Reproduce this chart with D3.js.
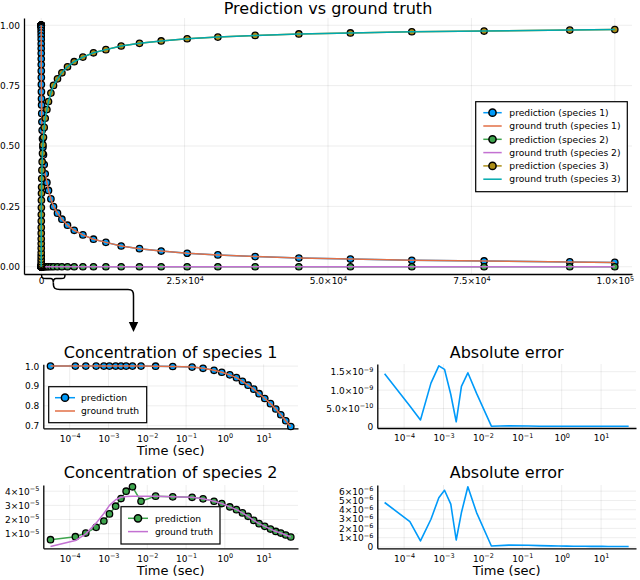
<!DOCTYPE html>
<html>
<head>
<meta charset="utf-8">
<script src="https://cdn.jsdelivr.net/npm/d3@7"></script>
<style>
  body { margin: 0; background: #fff; }
  text { font-family: "DejaVu Sans", sans-serif; fill: #000; }
</style>
</head>
<body>
<svg id="chart" width="640" height="580"></svg>
<script>
// ---- data ----
// first 29 solver steps (shown zoomed in the four small panels)
const tEarly = [3.2e-5, 1.4e-4, 2.6e-4, 4.8e-4, 7.6e-4, 1.06e-3, 1.53e-3, 2.1e-3, 2.85e-3, 4.15e-3,
  6.9e-3, 0.0164, 0.0453, 0.143, 0.274, 0.526, 0.832, 1.34, 1.99, 2.84,
  3.97, 5.56, 7.62, 10.7, 15.0, 20.6, 27.7, 37.2, 50.1];
// remaining steps, only in the big panel
const tLate = [68, 92, 124, 167, 225, 300, 395, 525, 697, 993, 1272, 1690, 2144, 2841, 3608, 4584,
  5752, 7268, 9116, 11277, 13944, 17134, 20916, 25448, 30799, 37300, 44917, 53911, 64612, 77215, 92152, 100000];

const pred1Early = [1.0, 1.0, 1.0, 1.0, 1.0, 1.0, 1.0, 1.0, 1.0, 1.0, 1.0, 0.9995, 0.998, 0.995, 0.989,
  0.979, 0.969, 0.956, 0.942, 0.923, 0.904, 0.884, 0.861, 0.837, 0.811, 0.784, 0.755, 0.725, 0.696];
const pred1Late = [0.67, 0.635, 0.60, 0.565, 0.53, 0.495, 0.464, 0.423, 0.385, 0.349, 0.316, 0.281, 0.249,
  0.222, 0.197, 0.172, 0.151, 0.132, 0.114, 0.101, 0.086, 0.075, 0.065, 0.056, 0.049, 0.042, 0.036,
  0.032, 0.027, 0.024, 0.020, 0.018];

const pred2Early = [0.58e-5, 0.79e-5, 1.05e-5, 1.45e-5, 1.9e-5, 2.4e-5, 2.94e-5, 3.48e-5, 4.0e-5, 4.31e-5,
  3.29e-5, 3.65e-5, 3.6e-5, 3.57e-5, 3.46e-5, 3.29e-5, 3.13e-5, 2.89e-5, 2.7e-5, 2.47e-5,
  2.23e-5, 1.94e-5, 1.71e-5, 1.52e-5, 1.33e-5, 1.16e-5, 1.05e-5, 0.91e-5, 0.77e-5];
const truth2Early = [0.1e-5, 0.52e-5, 0.99e-5, 1.75e-5, 2.43e-5, 3.0e-5, 3.4e-5, 3.57e-5, 3.63e-5, 3.65e-5,
  3.65e-5, 3.64e-5, 3.61e-5, 3.57e-5, 3.46e-5, 3.29e-5, 3.13e-5, 2.89e-5, 2.7e-5, 2.47e-5,
  2.23e-5, 1.94e-5, 1.71e-5, 1.52e-5, 1.33e-5, 1.16e-5, 1.05e-5, 0.91e-5, 0.77e-5];
const y2Late = [6.4e-6, 5.4e-6, 4.6e-6, 3.9e-6, 3.3e-6, 2.8e-6, 2.3e-6, 1.9e-6, 1.6e-6, 1.2e-6, 1.0e-6,
  8e-7, 6.5e-7, 5e-7, 4e-7, 3.3e-7, 2.7e-7, 2.2e-7, 1.8e-7, 1.5e-7, 1.2e-7, 1e-7, 8e-8, 7e-8,
  6e-8, 5e-8, 4e-8, 3.5e-8, 3e-8, 2.5e-8, 2e-8, 1.9e-8];

const pred3Early = [0, 0, 0, 0, 0, 0, 0, 0, 0, 0, 0, 0.0005, 0.002, 0.005, 0.011, 0.021, 0.031, 0.044,
  0.058, 0.077, 0.096, 0.116, 0.139, 0.163, 0.189, 0.216, 0.245, 0.275, 0.304];
const pred3Late = [0.33, 0.365, 0.40, 0.435, 0.47, 0.505, 0.536, 0.577, 0.615, 0.651, 0.684, 0.719, 0.751,
  0.778, 0.803, 0.828, 0.849, 0.868, 0.886, 0.899, 0.914, 0.925, 0.935, 0.944, 0.951, 0.958, 0.964,
  0.968, 0.973, 0.976, 0.980, 0.982];

const err1 = [1.444e-9, 0.57e-9, 0.19e-9, 1.19e-9, 1.66e-9, 1.565e-9, 0.88e-9, 0.14e-9, 1.1e-9, 1.47e-9,
  0.91e-9, 0.02e-9, 0.03e-9, 0.025e-9, 0.02e-9, 0.02e-9, 0.02e-9, 0.02e-9, 0.02e-9, 0.02e-9,
  0.02e-9, 0.02e-9, 0.02e-9, 0.02e-9, 0.02e-9, 0.02e-9, 0.02e-9, 0.02e-9, 0.02e-9];
const err2 = [4.78e-6, 2.73e-6, 0.65e-6, 2.98e-6, 5.3e-6, 6.1e-6, 4.6e-6, 0.75e-6, 3.7e-6, 6.47e-6,
  3.7e-6, 0.1e-6, 0.2e-6, 0.18e-6, 0.14e-6, 0.12e-6, 0.1e-6, 0.09e-6, 0.08e-6, 0.07e-6,
  0.07e-6, 0.06e-6, 0.06e-6, 0.06e-6, 0.05e-6, 0.05e-6, 0.05e-6, 0.05e-6, 0.05e-6];

// ticks
const topXTicks = [0, 25000, 50000, 75000, 100000];
const topXLabels = ["0", "2.5×10^4", "5.0×10^4", "7.5×10^4", "1.0×10^5"];
const topYTicks = [0, 0.25, 0.5, 0.75, 1.0];
const topYLabels = ["0.00", "0.25", "0.50", "0.75", "1.00"];
const logTicks = [1e-4, 1e-3, 1e-2, 1e-1, 1, 10];
const logLabels = ["10^−4", "10^−3", "10^−2", "10^−1", "10^0", "10^1"];
const s1YTicks = [0.7, 0.8, 0.9, 1.0];
const s1YLabels = ["0.7", "0.8", "0.9", "1.0"];
const s2YTicks = [1e-5, 2e-5, 3e-5, 4e-5];
const s2YLabels = ["1×10^−5", "2×10^−5", "3×10^−5", "4×10^−5"];
const e1YTicks = [0, 5e-10, 1e-9, 1.5e-9];
const e1YLabels = ["0", "5.0×10^−10", "1.0×10^−9", "1.5×10^−9"];
const e2YTicks = [0, 1e-6, 2e-6, 3e-6, 4e-6, 5e-6, 6e-6];
const e2YLabels = ["0", "1×10^−6", "2×10^−6", "3×10^−6", "4×10^−6", "5×10^−6", "6×10^−6"];

const col = {blue: "#009af9", orange: "#e26f46", green: "#3da44d", purple: "#c371d2", gold: "#ac8e18", teal: "#00a9ad"};

const svg = d3.select("#chart");

// plots.jl style: pad the data range by 3% on each side
function widen(vals) {
  const lo = d3.min(vals), hi = d3.max(vals), p = (hi - lo) * 0.03;
  return [lo - p, hi + p];
}
function widenLog(vals) {
  const lo = Math.log10(d3.min(vals)), hi = Math.log10(d3.max(vals)), p = (hi - lo) * 0.03;
  return [Math.pow(10, lo - p), Math.pow(10, hi + p)];
}

// "2.5×10^4" -> base text plus raised exponent
function supText(sel, label) {
  sel.text(null);
  const parts = label.split("^");
  sel.append("tspan").text(parts[0]);
  if (parts.length > 1) {
    sel.append("tspan").attr("font-size", "0.72em").attr("dy", "-0.55em").text(parts[1]);
  }
}

function drawPanel(cfg) {
  const {box, x, y, xTicks, xLabels, yTicks, yLabels, title, titleY, xlabel, xPad} = cfg;
  const g = svg.append("g");

  g.append("g").selectAll("line").data(xTicks).join("line")
    .attr("x1", d => x(d)).attr("x2", d => x(d))
    .attr("y1", box.y0).attr("y2", box.y1)
    .attr("stroke", "#000").attr("stroke-opacity", 0.1).attr("stroke-width", 0.7);
  g.append("g").selectAll("line").data(yTicks).join("line")
    .attr("x1", box.x0).attr("x2", box.x1)
    .attr("y1", d => y(d)).attr("y2", d => y(d))
    .attr("stroke", "#000").attr("stroke-opacity", 0.1).attr("stroke-width", 0.7);

  const xa = g.append("g").attr("transform", `translate(0,${box.y1})`)
    .call(d3.axisBottom(x).tickValues(xTicks).tickSize(0).tickSizeOuter(0).tickPadding(xPad))
    .attr("font-size", 9).attr("font-family", "DejaVu Sans");
  xa.select(".domain").attr("stroke", "#000").attr("stroke-width", 1.3);
  xa.selectAll(".tick text").each(function(d, i) { supText(d3.select(this), xLabels[i]); });

  const ya = g.append("g").attr("transform", `translate(${box.x0},0)`)
    .call(d3.axisLeft(y).tickValues(yTicks).tickSize(0).tickSizeOuter(0).tickPadding(4))
    .attr("font-size", 9).attr("font-family", "DejaVu Sans");
  ya.select(".domain").attr("stroke", "#000").attr("stroke-width", 1.3);
  ya.selectAll(".tick text").each(function(d, i) { supText(d3.select(this), yLabels[i]); });

  g.append("text").attr("x", (box.x0 + box.x1) / 2).attr("y", titleY)
    .attr("text-anchor", "middle").attr("font-size", 16).text(title);
  if (xlabel) {
    g.append("text").attr("x", (box.x0 + box.x1) / 2).attr("y", box.y1 + 26.5)
      .attr("text-anchor", "middle").attr("font-size", 13).text(xlabel);
  }
  return g;
}

function drawLine(g, xs, ys, x, y, color, width) {
  const pts = xs.map((t, i) => [t, ys[i]]);
  g.append("path").datum(pts)
    .attr("d", d3.line().x(d => x(d[0])).y(d => y(d[1])))
    .attr("fill", "none").attr("stroke", color).attr("stroke-width", width || 1.5)
    .attr("stroke-linejoin", "round");
}
function drawDots(g, xs, ys, x, y, color) {
  const pts = xs.map((t, i) => [t, ys[i]]);
  g.append("g").selectAll("circle").data(pts).join("circle")
    .attr("cx", d => x(d[0])).attr("cy", d => y(d[1])).attr("r", 3.2)
    .attr("fill", color).attr("stroke", "#000").attr("stroke-width", 1.3);
}

function drawLegend(b, rows, rowY, step, lx0, lx1, tx) {
  const g = svg.append("g");
  g.append("rect").attr("x", b.x).attr("y", b.y).attr("width", b.w).attr("height", b.h)
    .attr("fill", "#fff").attr("stroke", "#000").attr("stroke-width", 1.2);
  rows.forEach((r, i) => {
    const yy = rowY + i * step;
    g.append("line").attr("x1", lx0).attr("x2", lx1).attr("y1", yy).attr("y2", yy)
      .attr("stroke", r.color).attr("stroke-width", 1.5);
    if (r.marker) {
      g.append("circle").attr("cx", (lx0 + lx1) / 2).attr("cy", yy).attr("r", 3.6)
        .attr("fill", r.color).attr("stroke", "#000").attr("stroke-width", 1.5);
    }
    g.append("text").attr("x", tx).attr("y", yy).attr("dy", "0.35em")
      .attr("font-size", 9.2).text(r.label);
  });
}

// ---- big panel ----
const tAll = tEarly.concat(tLate);
const pred1All = pred1Early.concat(pred1Late);
const pred2All = pred2Early.concat(y2Late);
const truth2All = truth2Early.concat(y2Late);
const pred3All = pred3Early.concat(pred3Late);

const topBox = {x0: 24, x1: 632, y0: 18, y1: 274};
const xTop = d3.scaleLinear().domain(widen(tAll)).range([topBox.x0, topBox.x1]);
const yTop = d3.scaleLinear().domain(widen(pred1All.concat(pred3All, truth2All))).range([topBox.y1, topBox.y0]);
const gTop = drawPanel({box: topBox, x: xTop, y: yTop, xTicks: topXTicks, xLabels: topXLabels,
  yTicks: topYTicks, yLabels: topYLabels, title: "Prediction vs ground truth", titleY: 13.5, xPad: 4});

drawLine(gTop, tAll, pred1All, xTop, yTop, col.blue);
drawDots(gTop, tAll, pred1All, xTop, yTop, col.blue);
drawLine(gTop, tAll, pred1All, xTop, yTop, col.orange);
drawLine(gTop, tAll, pred2All, xTop, yTop, col.green);
drawDots(gTop, tAll, pred2All, xTop, yTop, col.green);
drawLine(gTop, tAll, truth2All, xTop, yTop, col.purple);
drawLine(gTop, tAll, pred3All, xTop, yTop, col.gold);
drawDots(gTop, tAll, pred3All, xTop, yTop, col.gold);
drawLine(gTop, tAll, pred3All, xTop, yTop, col.teal);

drawLegend({x: 475.7, y: 101.7, w: 151.6, h: 90}, [
  {label: "prediction (species 1)", color: col.blue, marker: true},
  {label: "ground truth (species 1)", color: col.orange},
  {label: "prediction (species 2)", color: col.green, marker: true},
  {label: "ground truth (species 2)", color: col.purple},
  {label: "prediction (species 3)", color: col.gold, marker: true},
  {label: "ground truth (species 3)", color: col.teal}
], 112.7, 13.3, 483.3, 501.7, 509.3);

// brace + arrow pointing at the zoomed panels
const ann = svg.append("g").attr("fill", "none").attr("stroke", "#000").attr("stroke-width", 1.5);
ann.append("path").attr("d", "M41.5,274.5 C41.5,278.5 43,278.5 46,278.5 L50.5,278.5 C52.5,278.5 53.3,280 53.3,282.5 C53.3,280 54.1,278.5 56.1,278.5 L61,278.5 C64,278.5 65,278.5 65,274.5");
ann.append("path").attr("d", "M53.3,282.5 C53.3,288.5 55,289.5 60,289.5 L128,289.5 C132.5,289.5 133.5,291.5 133.5,296 L133.5,324");
svg.append("path").attr("d", "M128.8,322 L138.2,322 L133.5,332 Z").attr("fill", "#000");

// ---- small panels ----
const xLogL = d3.scaleLog().domain(widenLog(tEarly)).range([43.3, 298]);
const xLogR = d3.scaleLog().domain(widenLog(tEarly)).range([377.3, 636]);

const s1Box = {x0: 43.3, x1: 298, y0: 364.3, y1: 428.3};
const yS1 = d3.scaleLinear().domain(widen(pred1Early)).range([s1Box.y1, s1Box.y0]);
const gS1 = drawPanel({box: s1Box, x: xLogL, y: yS1, xTicks: logTicks, xLabels: logLabels,
  yTicks: s1YTicks, yLabels: s1YLabels, title: "Concentration of species 1", titleY: 358.3,
  xlabel: "Time (sec)", xPad: 7});
drawLine(gS1, tEarly, pred1Early, xLogL, yS1, col.blue);
drawDots(gS1, tEarly, pred1Early, xLogL, yS1, col.blue);
drawLine(gS1, tEarly, pred1Early, xLogL, yS1, col.orange);
drawLegend({x: 48.7, y: 386.7, w: 98, h: 36}, [
  {label: "prediction", color: col.blue, marker: true},
  {label: "ground truth", color: col.orange}
], 397.7, 13.3, 55, 75, 81);

const e1Box = {x0: 377.3, x1: 636, y0: 364, y1: 428};
const yE1 = d3.scaleLinear().domain(widen(err1)).range([e1Box.y1, e1Box.y0]);
const gE1 = drawPanel({box: e1Box, x: xLogR, y: yE1, xTicks: logTicks, xLabels: logLabels,
  yTicks: e1YTicks, yLabels: e1YLabels, title: "Absolute error", titleY: 358.3, xPad: 7});
drawLine(gE1, tEarly, err1, xLogR, yE1, col.blue, 1.6);

const s2Box = {x0: 43.3, x1: 298, y0: 485, y1: 548.3};
const yS2 = d3.scaleLinear().domain(widen(pred2Early.concat(truth2Early))).range([s2Box.y1, s2Box.y0]);
const gS2 = drawPanel({box: s2Box, x: xLogL, y: yS2, xTicks: logTicks, xLabels: logLabels,
  yTicks: s2YTicks, yLabels: s2YLabels, title: "Concentration of species 2", titleY: 478.3,
  xlabel: "Time (sec)", xPad: 7});
drawLine(gS2, tEarly, pred2Early, xLogL, yS2, col.green);
drawDots(gS2, tEarly, pred2Early, xLogL, yS2, col.green);
drawLine(gS2, tEarly, truth2Early, xLogL, yS2, col.purple);
drawLegend({x: 121, y: 506.7, w: 99, h: 37.3}, [
  {label: "prediction", color: col.green, marker: true},
  {label: "ground truth", color: col.purple}
], 518.3, 13.3, 128, 148, 155);

const e2Box = {x0: 377.3, x1: 636, y0: 485, y1: 548.3};
const yE2 = d3.scaleLinear().domain(widen(err2)).range([e2Box.y1, e2Box.y0]);
const gE2 = drawPanel({box: e2Box, x: xLogR, y: yE2, xTicks: logTicks, xLabels: logLabels,
  yTicks: e2YTicks, yLabels: e2YLabels, title: "Absolute error", titleY: 478.3,
  xlabel: "Time (sec)", xPad: 7});
drawLine(gE2, tEarly, err2, xLogR, yE2, col.blue, 1.6);
</script>
</body>
</html>
